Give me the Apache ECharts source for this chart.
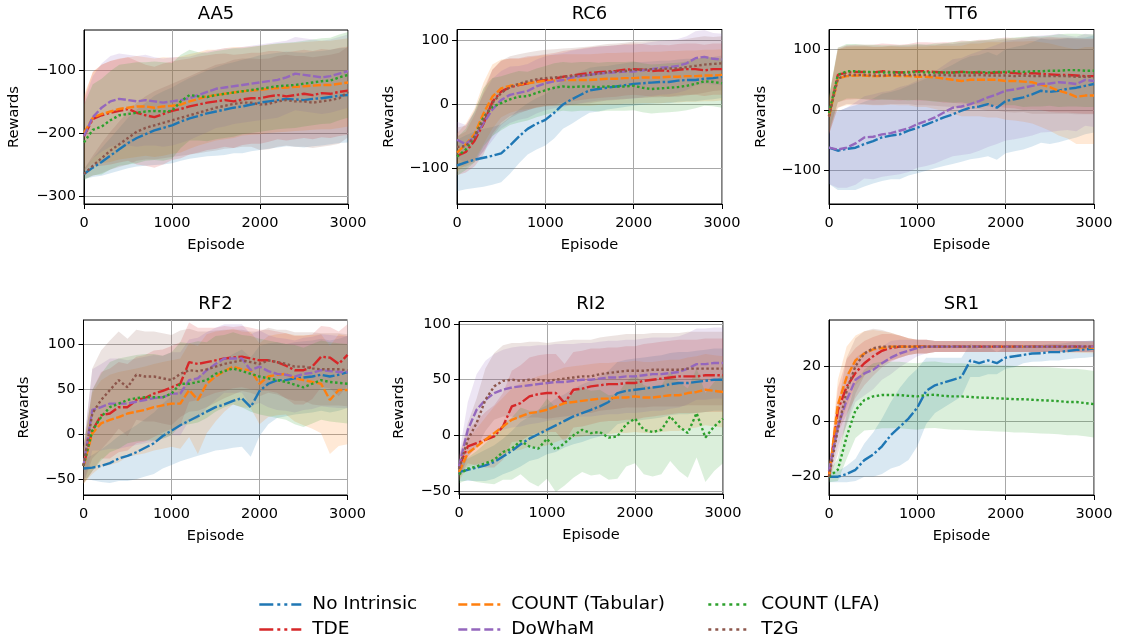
<!DOCTYPE html>
<html><head><meta charset="utf-8">
<script src="https://cdn.jsdelivr.net/npm/echarts@6/dist/echarts.min.js"></script>
<style>html,body{margin:0;padding:0;background:#fff}#chart{width:1125px;height:643px}</style>
</head><body><div id="chart"></div>
<script>
// ---------- data ----------
const EPISODES = [0,100,200,300,400,500,600,700,800,900,1000,1100,1200,1300,1400,1500,1600,1700,1800,1900,2000,2100,2200,2300,2400,2500,2600,2700,2800,2900,3000];
const METHODS = ['No Intrinsic','TDE','COUNT (Tabular)','DoWhaM','COUNT (LFA)','T2G'];
const ENVS = ['AA5','RC6','TT6','RF2','RI2','SR1'];
const X_TICKS = [0,1000,2000,3000];
const AA5_TICKS = [-300,-200,-100];
const RC6_TICKS = [-100,0,100];
const TT6_TICKS = [-100,0,100];
const RF2_TICKS = [-50,0,50,100];
const RI2_TICKS = [-50,0,50,100];
const SR1_TICKS = [-20,0,20];

// AA5 means
const AA5_noIntrinsic = [-265,-255,-246,-236,-226,-216,-208,-202,-196,-192,-188,-182,-177,-173,-169,-166,-163,-160,-158,-155,-152,-150,-148,-146,-147,-148,-146,-145,-143,-141,-140];
const AA5_tde = [-205,-178,-172,-168,-165,-162,-168,-172,-175,-170,-165,-162,-158,-155,-152,-150,-148,-150,-147,-145,-145,-142,-140,-142,-140,-138,-140,-137,-138,-135,-133];
const AA5_countTab = [-200,-176,-170,-166,-162,-160,-158,-158,-160,-158,-157,-155,-150,-146,-142,-140,-138,-136,-134,-133,-132,-130,-129,-128,-127,-126,-125,-124,-124,-122,-120];
const AA5_dowham = [-205,-175,-160,-150,-146,-148,-150,-148,-150,-152,-150,-148,-145,-140,-135,-130,-128,-126,-124,-122,-120,-118,-116,-112,-106,-108,-110,-112,-110,-106,-102];
const AA5_countLfa = [-215,-195,-190,-180,-172,-170,-168,-166,-165,-166,-165,-150,-140,-142,-143,-140,-138,-136,-134,-132,-130,-128,-126,-125,-124,-122,-120,-118,-117,-112,-108];
const AA5_t2g = [-265,-252,-240,-228,-218,-208,-198,-192,-188,-184,-180,-176,-172,-168,-164,-160,-157,-154,-152,-152,-155,-154,-150,-148,-150,-150,-152,-150,-148,-145,-135];
// AA5 std
const AA5_noIntrinsic_sd = [8,15,22,28,34,40,45,50,55,58,60,62,64,66,68,70,72,72,74,74,75,75,75,75,75,75,75,75,75,75,75];
const AA5_tde_sd = [60,75,80,82,82,82,82,80,80,80,78,78,76,76,75,75,74,74,72,72,72,72,70,70,70,70,70,70,70,70,70];
const AA5_countTab_sd = [60,72,78,80,80,80,80,78,78,78,76,76,75,74,74,72,72,72,70,70,70,70,70,70,70,70,70,70,70,70,70];
const AA5_dowham_sd = [55,65,70,72,72,72,72,72,70,70,70,68,66,65,64,62,62,60,60,60,60,60,60,58,58,58,58,58,58,58,58];
const AA5_countLfa_sd = [60,72,76,78,80,80,80,78,78,78,76,74,72,70,70,70,70,70,68,68,68,68,68,68,68,68,68,68,68,68,68];
const AA5_t2g_sd = [8,16,24,30,36,42,46,50,54,56,58,60,62,64,66,68,68,70,70,70,72,72,72,72,72,72,72,72,72,72,72];

// RC6 means
const RC6_noIntrinsic = [-95,-90,-86,-83,-80,-76,-64,-50,-38,-30,-24,-13,0,8,15,22,24,26,28,30,32,33,34,35,35,37,38,38,40,41,43];
const RC6_tde = [-80,-74,-56,-30,4,20,27,30,33,36,38,40,43,45,47,49,50,51,52,54,55,54,52,53,52,54,55,55,53,55,55];
const RC6_countTab = [-75,-62,-46,-14,12,25,29,31,33,35,37,37,38,38,38,38,39,40,40,41,41,42,42,42,43,43,44,44,45,45,46];
const RC6_dowham = [-55,-62,-50,-29,-8,7,15,18,21,28,33,36,38,42,44,46,48,49,50,51,51,53,55,57,58,60,64,72,74,71,70];
const RC6_countLfa = [-81,-70,-50,-20,-4,2,8,12,13,18,22,26,28,27,28,28,27,28,28,28,29,26,24,25,26,27,29,32,36,35,33];
const RC6_t2g = [-66,-65,-50,-24,2,18,27,32,36,39,41,42,43,44,45,46,48,50,51,52,54,54,55,55,56,56,58,60,62,63,64];
const RC6_noIntrinsic_sd = [40,42,44,45,45,45,44,42,40,40,40,40,38,38,36,35,35,34,34,34,34,33,33,33,33,33,33,33,33,33,33];
const RC6_tde_sd = [30,32,40,48,50,48,45,42,42,40,40,40,40,40,40,40,40,40,40,40,40,40,40,40,40,40,40,40,40,40,40];
const RC6_countTab_sd = [30,32,40,48,50,45,42,40,40,40,40,40,40,40,40,40,40,40,40,40,40,40,40,40,40,40,40,40,40,40,40];
const RC6_dowham_sd = [28,30,38,45,48,45,44,42,42,42,42,42,42,42,42,42,42,42,42,42,42,42,42,42,42,42,42,42,42,40,40];
const RC6_countLfa_sd = [30,32,40,45,45,42,40,40,38,38,38,38,38,38,38,38,38,38,38,38,38,38,38,38,38,38,38,38,38,38,38];
const RC6_t2g_sd = [30,32,40,48,52,50,48,46,45,44,44,44,44,44,44,44,44,44,44,44,44,44,44,44,44,44,44,44,44,42,42];

// TT6 means
const TT6_noIntrinsic = [-62,-67,-64,-62,-56,-51,-45,-42,-40,-34,-29,-24,-18,-12,-7,-1,4,6,10,4,15,18,21,26,32,30,32,35,37,40,43];
const TT6_tde = [-10,58,62,63,63,62,64,63,62,63,64,64,63,62,62,63,62,62,61,62,62,61,60,61,60,59,58,58,57,56,56];
const TT6_countTab = [-10,52,56,57,57,56,56,57,56,56,55,55,54,52,50,48,50,50,50,50,48,48,47,46,42,38,32,28,22,24,24];
const TT6_dowham = [-62,-65,-62,-55,-45,-44,-40,-38,-34,-30,-23,-18,-12,-4,4,6,10,15,21,26,32,34,37,40,43,44,46,45,43,50,48];
const TT6_countLfa = [-5,58,64,64,63,63,62,62,62,62,63,62,62,62,62,63,62,63,62,63,63,64,63,64,64,65,65,66,66,65,65];
const TT6_t2g = [-10,52,58,58,58,57,57,58,58,58,58,58,57,58,57,57,57,58,57,57,57,56,57,56,56,56,56,56,55,55,55];
const TT6_noIntrinsic_sd = [60,65,68,70,70,70,72,72,74,74,75,76,78,80,82,84,85,85,86,86,86,86,86,86,86,86,85,84,82,80,80];
const TT6_tde_sd = [30,45,45,45,45,46,46,46,46,46,48,48,48,50,50,52,52,54,55,56,58,58,60,60,60,62,62,62,62,62,62];
const TT6_countTab_sd = [30,48,48,48,48,48,48,48,48,48,50,50,52,54,56,58,60,60,62,62,64,65,66,68,70,72,74,75,78,80,80];
const TT6_dowham_sd = [60,63,66,68,68,70,70,70,72,72,72,74,76,78,80,80,82,82,82,82,82,82,82,82,80,80,80,78,78,76,76];
const TT6_countLfa_sd = [30,45,45,45,45,45,45,45,45,46,46,46,48,48,50,50,52,52,54,55,55,56,58,58,58,58,60,60,60,60,60];
const TT6_t2g_sd = [30,48,48,48,48,48,48,48,48,48,50,50,50,52,52,54,55,56,58,58,60,60,60,62,62,62,62,62,62,62,62];

// RF2 means
const RF2_noIntrinsic = [-38,-37,-35,-32,-27,-24,-20,-15,-10,-2,4,10,15,20,25,30,33,37,40,30,48,56,60,60,62,63,64,66,64,66,69];
const RF2_tde = [-35,4,21,23,30,30,38,40,45,48,52,56,80,78,80,82,84,85,86,84,82,82,80,76,71,71,75,86,85,78,88];
const RF2_countTab = [-35,1,12,16,19,23,25,27,30,32,34,34,49,38,56,64,70,75,72,71,56,64,66,67,62,60,58,56,38,49,49];
const RF2_dowham = [-35,27,30,34,34,34,36,38,40,41,45,45,60,62,71,78,84,84,84,71,75,70,67,66,64,67,68,71,70,69,69];
const RF2_countLfa = [-35,4,19,30,34,38,40,41,41,41,45,56,56,58,60,67,70,73,70,67,64,62,60,58,55,52,56,60,58,57,56];
const RF2_t2g = [-35,23,38,49,60,52,66,64,64,62,60,67,71,70,72,75,78,80,82,80,78,82,80,78,75,75,73,72,72,72,71];
const RF2_noIntrinsic_sd = [10,14,18,22,25,28,30,32,34,36,38,40,42,44,46,48,50,52,54,55,50,45,42,40,40,40,40,40,40,40,40];
const RF2_tde_sd = [20,45,48,50,50,48,48,48,48,46,46,46,44,40,38,36,36,34,34,34,34,34,34,36,38,38,36,34,34,36,34];
const RF2_countTab_sd = [20,45,48,50,50,48,48,48,48,48,48,50,52,60,55,50,45,42,42,42,45,45,45,45,48,50,52,55,60,62,60];
const RF2_dowham_sd = [20,45,48,50,50,48,48,48,48,46,46,46,45,45,42,40,38,38,38,40,40,40,40,40,40,40,40,40,40,40,40];
const RF2_countLfa_sd = [20,45,48,50,50,48,48,48,48,46,46,46,45,45,42,42,40,40,40,42,42,42,42,42,44,44,44,44,44,44,44];
const RF2_t2g_sd = [20,50,55,55,54,54,50,50,50,50,50,48,46,44,42,40,38,36,34,34,36,36,36,38,38,38,40,40,40,40,40];

// RI2 means
const RI2_noIntrinsic = [-33,-31,-29,-27,-24,-19,-14,-8,-3,1,5,9,13,17,20,23,26,30,38,40,41,42,43,44,46,47,47,48,49,50,50];
const RI2_tde = [-28,-10,-7,-4,-1,8,26,29,35,37,38,38,29,41,42,44,45,46,46,47,47,49,50,51,52,53,53,53,54,54,54];
const RI2_countTab = [-33,-16,-10,-4,2,8,14,17,20,21,23,26,29,30,31,32,33,33,34,34,35,34,34,35,36,36,38,39,41,40,39];
const RI2_dowham = [-28,5,23,32,38,41,43,44,45,46,47,48,48,49,50,50,51,52,52,53,53,54,55,55,56,57,60,64,64,65,65];
const RI2_countLfa = [-35,-30,-28,-25,-22,-15,-12,-5,-10,-12,-3,-13,-7,0,5,2,3,-2,-1,10,15,5,3,5,17,8,2,20,-2,8,15];
const RI2_t2g = [-30,-4,11,32,44,49,50,49,50,50,49,50,51,52,53,53,55,56,57,58,58,58,59,59,59,59,60,60,60,60,60];
const RI2_noIntrinsic_sd = [8,10,12,14,15,16,18,20,20,22,22,24,24,25,26,26,27,28,28,28,28,28,28,28,28,28,28,28,28,28,28];
const RI2_tde_sd = [10,15,20,25,28,30,32,34,35,35,35,35,35,34,34,34,33,33,33,33,33,33,33,33,33,33,33,33,33,33,33];
const RI2_countTab_sd = [8,12,16,20,24,26,28,30,30,32,32,32,32,32,32,32,32,32,32,32,32,32,32,32,32,32,32,32,32,32,32];
const RI2_dowham_sd = [10,25,32,35,35,36,36,36,35,35,34,34,34,33,33,33,33,33,33,33,33,33,33,33,32,32,32,32,32,32,32];
const RI2_countLfa_sd = [8,10,14,18,22,25,28,30,32,34,36,38,38,38,38,38,38,38,38,38,40,40,40,40,40,40,40,40,40,40,40];
const RI2_t2g_sd = [10,15,22,28,30,32,33,34,34,34,34,34,34,34,33,33,33,33,33,33,33,33,33,33,33,33,33,33,33,33,33];

// SR1 means
const SR1_noIntrinsic = [-20,-20,-19,-17.5,-14,-12,-9,-5,-2,1,5,11,13,14,15,16,22,21,22,21,23,23.5,24,24.5,24.6,25,25,25.4,25.8,26,26.3];
const SR1_tde = [-20,4,12.5,17.5,21,23.5,25.5,26.5,27,27,27,27,27,27,27,27,27,27,27,27,27,27,27,27,27,27,27,27,27,27,27];
const SR1_countTab = [-20,6,16,22,24.5,26,26.5,27,27,27,27,27,27,27,27,27,27,27,27,27,27,27,27,27,27,27,27,26.8,26.8,26.7,26.6];
const SR1_dowham = [-18,-2,7.7,15,17.3,18.6,21,23,24.5,25.5,26.5,27,27,27,27,27,27,27,27,27,27,27,27,27,27,27,27,27,27,27,27];
const SR1_countLfa = [-20,-17.5,-5.5,4,7.7,9,9.5,9.5,9.5,9.2,9,9.5,9.6,9.2,9,9,8.8,8.6,8.5,8.3,8.2,8,8,7.8,7.6,7.5,7.3,7,7,6.6,6.2];
const SR1_t2g = [-20,-3,11,20,24.5,26.4,27,27,27,27,27,27,27,27,27,27,27,27,27,27,27,27,27,27,27,27,27,27,27,27,27];
const SR1_noIntrinsic_sd = [2,2,3,4,6,8,10,12,14,15,14,12,10,9,8,7,6,5,5,4,4,4,3,3,3,3,3,3,3,3,3];
const SR1_tde_sd = [2,8,10,9,8,7,6,5,4,3,2.5,2.5,2,2,2,2,2,2,2,2,2,2,2,2,2,2,2,2,2,2,2];
const SR1_countTab_sd = [2,9,11,9,8,7,6,5,4,3,2.5,2.5,2,2,2,2,2,2,2,2,2,2,2,2,2,2,2,2,2,2,2];
const SR1_dowham_sd = [3,7,9,8,8,7,6,6,5,4,3,2.5,2,2,2,2,2,2,2,2,2,2,2,2,2,2,2,2,2,2,2];
const SR1_countLfa_sd = [2,4,8,10,11,12,12,12,12,12,12,12,12,12,12,12,12,12,12,12,12,12,12,12,12,12,12,12,12,12,12];
const SR1_t2g_sd = [2,9,12,10,8,7,6,5,4,3,2.5,2.5,2,2,2,2,2,2,2,2,2,2,2,2,2,2,2,2,2,2,2];

// ---------- assembly ----------
const COLORS = ['#1f77b4','#d62728','#ff7f0e','#9467bd','#2ca02c','#8c564b'];
const DASHES = [[12,2.5,2.5,2.5],[12,2.5,2.5,2.5],[8,2.5],[8,2.5],[2.5,2.5],[2.5,2.5]];
const LEGEND_DASHES = [[14,4,3,4,3,4],[14,4,3,4,3,4],[9,4],[9,4],[3,4],[3,4]];
const ENV_SETS = [
  {mean:[AA5_noIntrinsic,AA5_tde,AA5_countTab,AA5_dowham,AA5_countLfa,AA5_t2g], sd:[AA5_noIntrinsic_sd,AA5_tde_sd,AA5_countTab_sd,AA5_dowham_sd,AA5_countLfa_sd,AA5_t2g_sd], ticks:AA5_TICKS, min:-312.6, max:-36.9},
  {mean:[RC6_noIntrinsic,RC6_tde,RC6_countTab,RC6_dowham,RC6_countLfa,RC6_t2g], sd:[RC6_noIntrinsic_sd,RC6_tde_sd,RC6_countTab_sd,RC6_dowham_sd,RC6_countLfa_sd,RC6_t2g_sd], ticks:RC6_TICKS, min:-154.9, max:116.6},
  {mean:[TT6_noIntrinsic,TT6_tde,TT6_countTab,TT6_dowham,TT6_countLfa,TT6_t2g], sd:[TT6_noIntrinsic_sd,TT6_tde_sd,TT6_countTab_sd,TT6_dowham_sd,TT6_countLfa_sd,TT6_t2g_sd], ticks:TT6_TICKS, min:-154.9, max:133},
  {mean:[RF2_noIntrinsic,RF2_tde,RF2_countTab,RF2_dowham,RF2_countLfa,RF2_t2g], sd:[RF2_noIntrinsic_sd,RF2_tde_sd,RF2_countTab_sd,RF2_dowham_sd,RF2_countLfa_sd,RF2_t2g_sd], ticks:RF2_TICKS, min:-67.4, max:126.7},
  {mean:[RI2_noIntrinsic,RI2_tde,RI2_countTab,RI2_dowham,RI2_countLfa,RI2_t2g], sd:[RI2_noIntrinsic_sd,RI2_tde_sd,RI2_countTab_sd,RI2_dowham_sd,RI2_countLfa_sd,RI2_t2g_sd], ticks:RI2_TICKS, min:-52.7, max:102.3},
  {mean:[SR1_noIntrinsic,SR1_tde,SR1_countTab,SR1_dowham,SR1_countLfa,SR1_t2g], sd:[SR1_noIntrinsic_sd,SR1_tde_sd,SR1_countTab_sd,SR1_dowham_sd,SR1_countLfa_sd,SR1_t2g_sd], ticks:SR1_TICKS, min:-26.6, max:36.6}
];
// layout (pixels)
const GRIDS = [
  {left:84, top:30, width:264, height:174, nameGap:62},
  {left:457, top:29.5, width:265, height:174.5, nameGap:60},
  {left:829, top:29.5, width:265, height:174.5, nameGap:60},
  {left:83.5, top:320, width:264, height:175, nameGap:52},
  {left:459, top:321.5, width:264, height:172.5, nameGap:52},
  {left:829, top:320, width:265, height:175, nameGap:50}
];
const FONT = 'DejaVu Sans';
const fmt = v => v < 0 ? '\u2212' + Math.abs(v) : String(v);

const grid = [], xAxis = [], yAxis = [], series = [], title = [];
ENV_SETS.forEach((env, g) => {
  const G = GRIDS[g];
  grid.push({left:G.left, top:G.top, width:G.width, height:G.height, show:true, borderColor:'#000', borderWidth:1, backgroundColor:'transparent'});
  title.push({text:ENVS[g], left:G.left + G.width/2, top: g < 3 ? 5 : 295, textAlign:'center', padding:0,
    textStyle:{fontFamily:FONT, fontSize:18, fontWeight:'normal', color:'#000'}});
  xAxis.push({type:'value', gridIndex:g, min:0, max:3000,
    name:'Episode', nameLocation:'middle', nameGap:34, nameTextStyle:{fontFamily:FONT, fontSize:14.6, color:'#000'},
    axisLine:{show:true, onZero:false, lineStyle:{color:'#000', width:1}},
    axisTick:{show:true, length:5, lineStyle:{color:'#000'}, customValues:X_TICKS},
    axisLabel:{fontFamily:FONT, fontSize:14.5, color:'#000', margin:12, customValues:X_TICKS, formatter:fmt},
    splitLine:{show:true, lineStyle:{color:'#a8a8a8', width:1}}});
  yAxis.push({type:'value', gridIndex:g, min:env.min, max:env.max,
    name:'Rewards', nameLocation:'middle', nameGap:G.nameGap, nameRotate:90, nameTextStyle:{fontFamily:FONT, fontSize:14.6, color:'#000'},
    axisLine:{show:true, onZero:false, lineStyle:{color:'#000', width:1}},
    axisTick:{show:true, length:5, lineStyle:{color:'#000'}, customValues:env.ticks},
    axisLabel:{fontFamily:FONT, fontSize:14.5, color:'#000', margin:8, customValues:env.ticks, formatter:fmt},
    splitLine:{show:true, lineStyle:{color:'#a8a8a8', width:1}}});
  // bands
  env.mean.forEach((m, k) => {
    const sd = env.sd[k];
    series.push({type:'custom', xAxisIndex:g, yAxisIndex:g, clip:true, silent:true, z:1,
      data:[[EPISODES[0], m[0]]],
      renderItem:(params, api) => {
        const pts = [];
        for (let i = 0; i < EPISODES.length; i++) pts.push(api.coord([EPISODES[i], m[i] + sd[i]]));
        for (let i = EPISODES.length - 1; i >= 0; i--) pts.push(api.coord([EPISODES[i], m[i] - sd[i]]));
        return {type:'polygon', shape:{points:pts}, style:{fill:COLORS[k], opacity:0.17}};
      }});
  });
  // mean lines
  env.mean.forEach((m, k) => {
    series.push({type:'line', name:METHODS[k], xAxisIndex:g, yAxisIndex:g, z:3,
      data:EPISODES.map((x, i) => [x, m[i]]), symbol:'none', showSymbol:false,
      lineStyle:{color:COLORS[k], width:2.4, type:DASHES[k]}, itemStyle:{color:COLORS[k]}});
  });
});

const LEG_LEFT = [258, 457, 707];
const LEG_TOP = [595, 620];
const legend = METHODS.map((name, k) => ({
  data:[name], left:LEG_LEFT[Math.floor(k/2)], top:LEG_TOP[k%2], padding:0,
  itemWidth:42, itemHeight:14, selectedMode:false,
  itemStyle:{opacity:0},
  lineStyle:{width:2.6, type:LEGEND_DASHES[k]},
  textStyle:{fontFamily:FONT, fontSize:18.5, color:'#000', padding:[0,0,0,6]}
}));

const chart = echarts.init(document.getElementById('chart'), null, {renderer:'canvas'});
chart.setOption({animation:false, backgroundColor:'#fff', title, legend, grid, xAxis, yAxis, series});
</script>
</body></html>
